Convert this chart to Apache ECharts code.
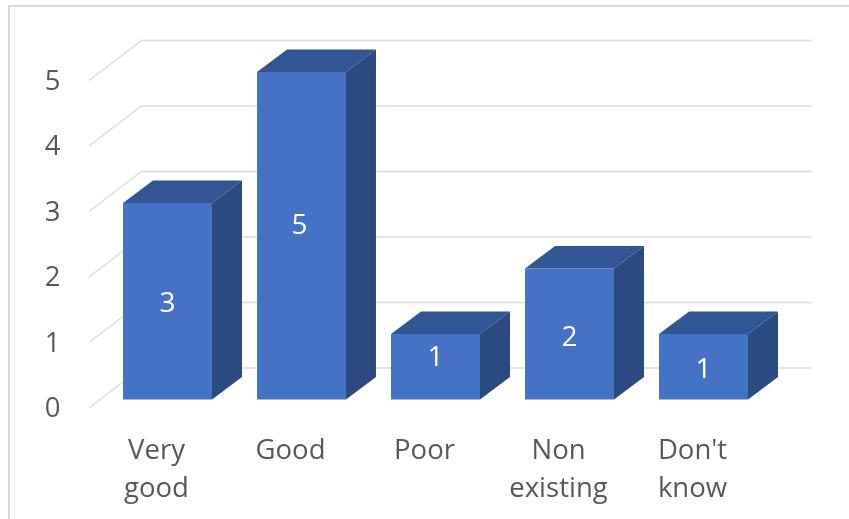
<!DOCTYPE html>
<html>
<head>
<meta charset="utf-8">
<style>html,body{margin:0;padding:0;background:#fff}#c{width:849px;height:519px}</style>
<script src="https://cdn.jsdelivr.net/npm/echarts@6/dist/echarts.min.js"></script>
</head>
<body>
<div id="c"></div>
<script>
const categories = ['Very\ngood', 'Good', 'Poor', 'Non\nexisting', "Don't\nknow"];
const values = [3, 5, 1, 2, 1];
const yTicks = [0, 1, 2, 3, 4, 5];

const FONT = '"Open Sans","Noto Sans",sans-serif';
const labelNudge = [3, -10, -9, 4, 3];
const barDepth = [30, -22.5];
const wallBack = [41, -31.5];
const wallFront = [-11.5, 8.5];

const chart = echarts.init(document.getElementById('c'), null, {renderer: 'canvas'});

function renderWall(params, api) {
  const v = api.value(1);
  const cs = params.coordSys;
  const y = api.coord([0, v])[1];
  const pts = [
    [cs.x + wallFront[0], y + wallFront[1]],
    [cs.x + wallBack[0], y + wallBack[1]],
    [cs.x + cs.width + wallBack[0], y + wallBack[1]]
  ];
  return {
    type: 'polyline',
    shape: {points: pts},
    style: {fill: 'none', stroke: '#dcdcdc', lineWidth: 1.5}
  };
}

function renderBar(params, api) {
  const i = api.value(0);
  const v = api.value(1);
  const top = api.coord([i, v]);
  const base = api.coord([i, 0]);
  const w = api.size([1, 0])[0] * 0.664;
  const l = top[0] - w / 2, r = top[0] + w / 2;
  const dx = barDepth[0], dy = barDepth[1];
  return {
    type: 'group',
    children: [
      {type: 'polygon', shape: {points: [[l, top[1]], [r, top[1]], [r + dx, top[1] + dy], [l + dx, top[1] + dy]]},
        style: {fill: '#325694'}},
      {type: 'polygon', shape: {points: [[r, top[1]], [r + dx, top[1] + dy], [r + dx, base[1] + dy], [r, base[1]]]},
        style: {fill: '#2a4a80'}},
      {type: 'rect', shape: {x: l, y: top[1], width: w, height: base[1] - top[1]},
        style: {fill: '#4472c4'}},
      {type: 'text', style: {
        x: top[0] - (i === 1 ? 2 : 0), y: (top[1] + base[1]) / 2 + labelNudge[params.dataIndex],
        text: String(v), fill: '#ffffff', font: '28px ' + FONT, align: 'center', verticalAlign: 'middle'
      }}
    ]
  };
}

chart.setOption({
  animation: false,
  backgroundColor: '#ffffff',
  graphic: [{
    type: 'polyline',
    silent: true,
    shape: {points: [[9, 519], [9, 6], [849, 6]]},
    style: {fill: 'none', stroke: '#d9d9d9', lineWidth: 2}
  }],
  grid: {left: 100.5, width: 670, top: 72, height: 327.5},
  xAxis: {
    type: 'category',
    data: categories,
    axisLine: {show: false},
    axisTick: {show: false},
    axisLabel: {
      color: '#595959', fontFamily: FONT, fontSize: 27.5, lineHeight: 38,
      margin: 33, padding: [0, 22, 0, 0], interval: 0
    }
  },
  yAxis: {
    type: 'value',
    min: 0,
    max: 5,
    interval: 1,
    axisLine: {show: false},
    axisTick: {show: false},
    splitLine: {show: false},
    axisLabel: {
      color: '#595959', fontFamily: FONT, fontSize: 27.5,
      margin: 40, verticalAlign: 'top', lineHeight: 20,
      formatter: (v) => String(yTicks[yTicks.indexOf(v)])
    }
  },
  series: [
    {type: 'custom', renderItem: renderWall, z: 1, silent: true,
      data: yTicks.map((v) => [0, v]), encode: {x: 0, y: 1}},
    {type: 'custom', renderItem: renderBar, z: 2, silent: true,
      data: values.map((v, i) => [i, v]), encode: {x: 0, y: 1}}
  ]
});
</script>
</body>
</html>
